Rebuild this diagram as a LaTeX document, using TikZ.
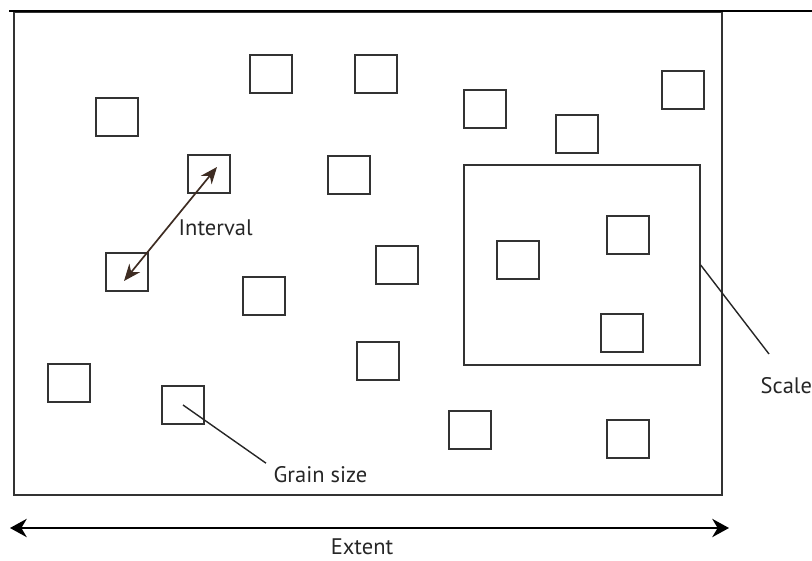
\documentclass[tikz,border=0pt]{standalone}
\usepackage{fontspec}
\setmainfont{PT Sans}
\usepackage{tikz}
\usetikzlibrary{arrows.meta, positioning}
\tikzset{
  grain/.style={draw=black!80, line width=0.9pt, minimum width=1.05cm, minimum height=0.95cm, inner sep=0pt},
  window/.style={draw=black!80, line width=0.9pt, minimum width=5.9cm, minimum height=5cm, inner sep=0pt},
  lbl/.style={font=\fontsize{16}{18}\selectfont, text=black!85, inner sep=1pt},
  leader/.style={line width=1pt, black!85},
  extentarrow/.style={{Stealth[length=4.2mm, width=4.6mm]}-{Stealth[length=4.2mm, width=4.6mm]}, line width=1.1pt},
}

\begin{document}
\begin{tikzpicture}[
  x=0.025cm, y=-0.025cm,
  intervalarrow/.style={{Stealth[length=4.2mm, width=3.4mm]}-{Stealth[length=4.2mm, width=3.4mm]}, line width=1.2pt, draw={rgb,255:red,62;green,44;blue,34}, fill={rgb,255:red,62;green,44;blue,34}},
]
\useasboundingbox (0,0) rectangle (812,561);

% Study area and top rule
\node[draw=black!80, line width=1.1pt, minimum width=17.7cm, minimum height=12.075cm, inner sep=0pt] (area) at (368,253.5) {};
\coordinate (ruleL) at (9,11);
\coordinate (ruleR) at (812,11);
\draw[line width=1.6pt] (ruleL) -- (ruleR);

% Grains
\node[grain] (g1)  at (117,117) {};
\node[grain] (g2)  at (271,74)  {};
\node[grain] (g3)  at (376,74)  {};
\node[grain] (g4)  at (485,109) {};
\node[grain] (g5)  at (577,134) {};
\node[grain] (g6)  at (683,90)  {};
\node[grain] (g7)  at (209,174) {};
\node[grain] (g8)  at (349,175) {};
\node[grain] (g9)  at (127,272) {};
\node[grain] (g10) at (264,296) {};
\node[grain] (g11) at (397,265) {};
\node[grain] (g12) at (518,260) {};
\node[grain] (g13) at (628,235) {};
\node[grain] (g14) at (622,333) {};
\node[grain] (g15) at (378,361) {};
\node[grain] (g16) at (69,383)  {};
\node[grain] (g17) at (183,405) {};
\node[grain] (g18) at (470,430) {};
\node[grain] (g19) at (628,439) {};

% Scale window
\node[window] (scalebox) at (582,265) {};

% Labels
\node[lbl, anchor=west] (interval) at (177,228) {Interval};
\node[lbl, anchor=west] (grainsize) at (272,475) {Grain size};
\node[lbl, anchor=west] (scale) at (759,386) {Scale};
\node[lbl] (extent) at (362,547) {Extent};

% Connectors
\draw[intervalarrow] ([shift={(-3,9)}]g9.center) -- ([shift={(8,-7)}]g7.center);
\draw[leader] (g17.center) -- ([shift={(-6,-2)}]grainsize.north west);
\coordinate (scaletip) at (769,354);
\draw[leader] (scalebox.east) -- (scaletip);
\coordinate (extL) at (10,528);
\coordinate (extR) at (729,528);
\draw[extentarrow] (extL) -- (extR);

\end{tikzpicture}
\end{document}
